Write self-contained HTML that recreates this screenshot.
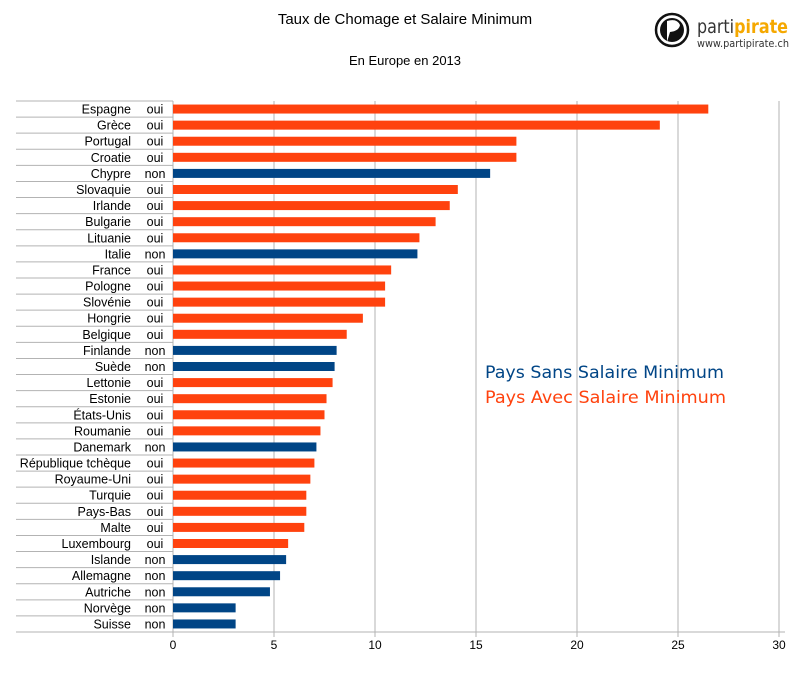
<!DOCTYPE html>
<html><head><meta charset="utf-8"><style>
body{margin:0;background:#fff;}
svg{display:block;font-family:"Liberation Sans",sans-serif;}
</style></head><body>
<svg id="chart" width="799" height="675">
<text x="405" y="24" text-anchor="middle" font-size="15" fill="#000">Taux de Chomage et Salaire Minimum</text>
<text x="405" y="65" text-anchor="middle" font-size="13" fill="#000">En Europe en 2013</text>
<g>
<circle cx="672" cy="30" r="16" fill="#fff" stroke="#111" stroke-width="2.5"/>
<circle cx="672" cy="30" r="12" fill="#111"/>
<path d="M667 42 L667 21 Q677 18 680 25 Q679 31 670 32 Z" fill="#fff"/>
<text x="697" y="33" font-size="19" fill="#333" font-family="DejaVu Sans,sans-serif" textLength="91" lengthAdjust="spacingAndGlyphs">parti<tspan fill="#f5a800" font-weight="bold">pirate</tspan></text>
<text x="697" y="47" font-size="10.5" fill="#333" font-family="DejaVu Sans,sans-serif" textLength="92" lengthAdjust="spacingAndGlyphs">www.partipirate.ch</text>
</g>
<g id="grid"></g><g id="table"></g><g id="bars"></g><g id="ticks"></g>
<text x="485" y="378" font-size="17" fill="#004586" font-family="DejaVu Sans,sans-serif" textLength="239" lengthAdjust="spacingAndGlyphs">Pays Sans Salaire Minimum</text>
<text x="485" y="403" font-size="17" fill="#ff420e" font-family="DejaVu Sans,sans-serif" textLength="241" lengthAdjust="spacingAndGlyphs">Pays Avec Salaire Minimum</text>
</svg>
<script>
const countries=["Espagne","Grèce","Portugal","Croatie","Chypre","Slovaquie","Irlande","Bulgarie","Lituanie","Italie","France","Pologne","Slovénie","Hongrie","Belgique","Finlande","Suède","Lettonie","Estonie","États-Unis","Roumanie","Danemark","République tchèque","Royaume-Uni","Turquie","Pays-Bas","Malte","Luxembourg","Islande","Allemagne","Autriche","Norvège","Suisse"];
const minWage=["oui","oui","oui","oui","non","oui","oui","oui","oui","non","oui","oui","oui","oui","oui","non","non","oui","oui","oui","oui","non","oui","oui","oui","oui","oui","oui","non","non","non","non","non"];
const unemployment=[26.5,24.1,17.0,17.0,15.7,14.1,13.7,13.0,12.2,12.1,10.8,10.5,10.5,9.4,8.6,8.1,8.0,7.9,7.6,7.5,7.3,7.1,7.0,6.8,6.6,6.6,6.5,5.7,5.6,5.3,4.8,3.1,3.1];
const ticks=[0,5,10,15,20,25,30];
const NS="http://www.w3.org/2000/svg";
const X0=173,X1=779,TOPY=101,BOTY=632,XMAX=30;
const step=(BOTY-TOPY)/countries.length;
const xs=v=>X0+v/XMAX*(X1-X0);
const yr=i=>TOPY+i*step;
function mk(t,a,p){const e=document.createElementNS(NS,t);for(const k in a)e.setAttribute(k,a[k]);p.appendChild(e);return e;}
const grid=document.getElementById('grid'),table=document.getElementById('table'),bars=document.getElementById('bars'),tk=document.getElementById('ticks');
ticks.forEach(t=>{
 const l=mk('line',{x1:xs(t),x2:xs(t),y1:TOPY,y2:BOTY+5,stroke:'#b3b3b3'},grid);
 
 
 const tx=mk('text',{x:xs(t),y:BOTY+17,'text-anchor':'middle','font-size':12},tk);tx.textContent=t;
 
 
});
const axis=mk('line',{x1:16,x2:785,y1:BOTY,y2:BOTY,stroke:'#b3b3b3'},grid);


for(let i=0;i<countries.length;i++){
 const ln=mk('line',{x1:16,x2:X0,y1:yr(i),y2:yr(i),stroke:'#b3b3b3'},table);
 
 
 const cy=yr(i)+step/2;
 const c=mk('text',{x:131,y:cy+4.5,'text-anchor':'end','font-size':12.5},table);c.textContent=countries[i];
 
 
 const w=mk('text',{x:155,y:cy+4.5,'text-anchor':'middle','font-size':12.5},table);w.textContent=minWage[i];
 
 
 const b=mk('rect',{x:X0,y:cy-4.5,width:xs(unemployment[i])-X0,height:9,fill:minWage[i]==='oui'?'#ff420e':'#004586'},bars);
 
 
}
</script>
</body></html>
